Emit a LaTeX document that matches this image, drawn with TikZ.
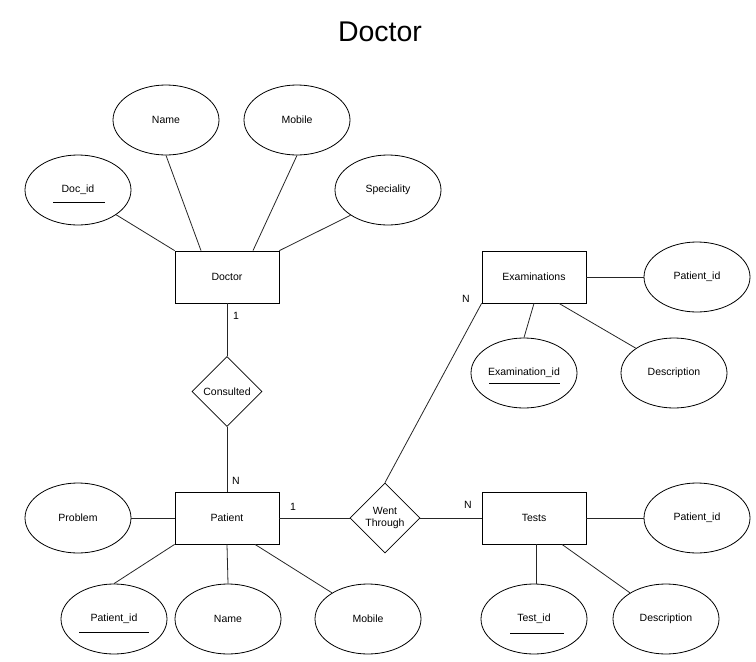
\documentclass[tikz,border=0pt]{standalone}
\usepackage{fontspec}
\setmainfont{Liberation Sans}
\usetikzlibrary{shapes.geometric}
\begin{document}
\begin{tikzpicture}[x=1pt,y=-1pt,
  every node/.style={font=\fontsize{10.5}{12}\selectfont},
  entity/.style={draw, line width=0.8pt, minimum width=104pt, minimum height=52pt, inner sep=0pt},
  attr/.style={draw, line width=0.8pt, ellipse, minimum width=106pt, minimum height=70pt, inner sep=0pt},
  rel/.style={draw, line width=0.8pt, diamond, minimum width=70pt, minimum height=70pt, inner sep=0pt, align=center, font=\fontsize{10.5}{11.5}\selectfont},
  conn/.style={line width=0.8pt, draw=black!85},
  card/.style={inner sep=0pt, font=\fontsize{10.5}{12}\selectfont},
  uline/.style={line width=0.8pt}
]
\useasboundingbox (0,0) rectangle (756,662);
\node[font=\fontsize{28.5}{32}\selectfont] (title) at (380,32) {Doctor};

% Doctor
\node[entity] (doctor) at (227,277) {Doctor};
\node[attr] (docid) at (78,190) {Doc\_id};
\node[attr] (dname) at (166,120) {Name};
\node[attr] (dmob) at (297,120) {Mobile};
\node[attr] (spec) at (388,190) {Speciality};

% Consulted
\node[rel] (consulted) at (227,391.5) {Consulted};

% Patient
\node[entity] (patient) at (227,518) {Patient};
\node[attr] (problem) at (78,518) {Problem};
\node[attr] (ppid) at (114,619) {Patient\_id};
\node[attr] (pname) at (228,619) {Name};
\node[attr] (pmob) at (368,619) {Mobile};

% Went Through
\node[rel] (went) at (385,518) {Went\\Through};

% Examinations
\node[entity] (exam) at (534,277) {Examinations};
\node[attr] (epid) at (697,277) {Patient\_id};
\node[attr] (examid) at (524,373) {Examination\_id};
\node[attr] (edesc) at (674,373) {Description};

% Tests
\node[entity] (tests) at (534,518) {Tests};
\node[attr] (tpid) at (697,518) {Patient\_id};
\node[attr] (tid) at (534,619) {Test\_id};
\node[attr] (tdesc) at (666,619) {Description};

% underlines
\draw[uline] ([xshift=-25pt,yshift=-12pt]docid.center) -- ([xshift=27pt,yshift=-12pt]docid.center);
\draw[uline] ([xshift=-35pt,yshift=-10pt]examid.center) -- ([xshift=36pt,yshift=-10pt]examid.center);
\draw[uline] ([xshift=-35pt,yshift=-13pt]ppid.center) -- ([xshift=35pt,yshift=-13pt]ppid.center);
\draw[uline] ([xshift=-24pt,yshift=-14pt]tid.center) -- ([xshift=30pt,yshift=-14pt]tid.center);

% doctor attributes
\draw[conn] (docid.-33) -- (doctor.north west);
\draw[conn] (dname.south) -- ([xshift=-26pt]doctor.north);
\draw[conn] (dmob.south) -- ([xshift=26pt]doctor.north);
\draw[conn] (spec.214) -- (doctor.north east);

% doctor - consulted - patient
\draw[conn] (doctor.south) -- (consulted.north);
\draw[conn] (consulted.south) -- (patient.north);
\node[card] (c1) at (236,316) {1};
\node[card] (c2) at (236,481) {N};

% patient attributes
\draw[conn] (problem.east) -- (patient.west);
\draw[conn] (patient.south west) -- (ppid.north);
\draw[conn] (patient.south) -- (pname.north);
\draw[conn] ([xshift=28pt]patient.south) -- (pmob.144);

% went through
\draw[conn] (patient.east) -- (went.west);
\draw[conn] (went.east) -- (tests.west);
\draw[conn] (went.north) -- (exam.south west);
\node[card] (c3) at (293,507) {1};
\node[card] (c4) at (468,505) {N};
\node[card] (c5) at (466,299) {N};

% examinations attributes
\draw[conn] (exam.east) -- (epid.west);
\draw[conn] (exam.south) -- (examid.north);
\draw[conn] ([xshift=25pt]exam.south) -- (edesc.147);

% tests attributes
\draw[conn] (tests.east) -- (tpid.west);
\draw[conn] ([xshift=2pt]tests.south) -- ([xshift=2pt]tid.north);
\draw[conn] ([xshift=28pt]tests.south) -- (tdesc.144);
\end{tikzpicture}
\end{document}
